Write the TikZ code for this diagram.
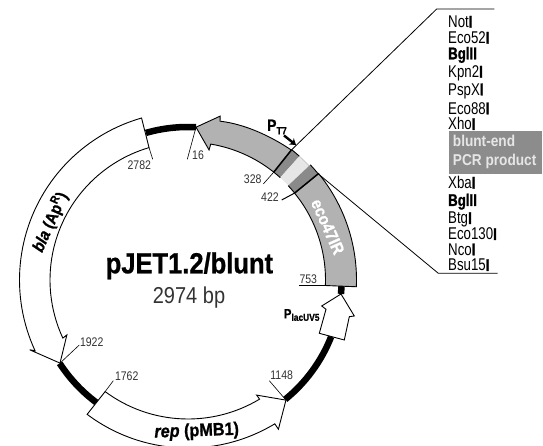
\documentclass[tikz,border=0pt]{standalone}
\usepackage{fontspec}
\usetikzlibrary{arrows.meta}
\setmainfont[FakeStretch=0.84,BoldFeatures={FakeBold=0.8},BoldItalicFeatures={FakeBold=0.8}]{Liberation Sans}
\newfontfamily\listf[FakeStretch=0.78,BoldFeatures={FakeBold=1.2}]{Liberation Sans}
\newfontfamily\titlef[FakeStretch=0.88,BoldFeatures={FakeBold=0.8}]{Liberation Sans}
\newfontfamily\sizef[FakeStretch=0.87]{Liberation Sans}
\newfontfamily\genef[FakeStretch=0.90,BoldFeatures={FakeBold=1},BoldItalicFeatures={FakeBold=1}]{Liberation Sans}
\definecolor{bandgrey}{HTML}{B2B2B2}
\definecolor{dkgrey}{HTML}{8A8A8A}
\definecolor{ltgrey}{HTML}{E6E6E6}
\definecolor{boxgrey}{HTML}{8C8C8C}
\definecolor{thintext}{HTML}{333333}
\tikzset{
  x=1pt,y=1pt,
  band/.style={draw=black,line width=0.9pt,line join=miter,miter limit=6},
  backbone/.style={line width=6.5pt,black},
  ticker/.style={draw=black,line width=0.6pt},
  poslabel/.style={inner sep=0pt,font=\fontsize{12.5}{12.5}\selectfont,text=thintext},
  enz/.style={inner sep=0pt,anchor=west,text height=12pt,text depth=0pt,font=\listf\fontsize{17}{17}\selectfont},
  boxtext/.style={inner sep=0pt,anchor=west,text=ltgrey,font=\sizef\fontsize{15.7}{15.7}\selectfont\bfseries},
  genetext/.style={inner sep=0pt,font=\genef\fontsize{18}{18}\selectfont\bfseries},
}
\begin{document}
\begin{tikzpicture}
\useasboundingbox (0,0) rectangle (543,446);
\coordinate (C) at (188,166);
\begin{scope}[shift={(188,166)}]
  % backbone
  \draw[backbone] (106:153) arc[start angle=106,end angle=87,radius=153pt];
  \draw[backbone] (213:153) arc[start angle=213,end angle=233.3,radius=153pt];
  \draw[backbone] (309.2:154) arc[start angle=309.2,end angle=338.4,radius=154pt];
  \draw[backbone] (354.8:153.6) arc[start angle=354.8,end angle=358,radius=153.6pt];
  % bla
  \draw[band,fill=white] (106.4:138) arc[start angle=106.4,end angle=204.9,radius=138pt]
    -- (204.4:133) -- (213:152.6) -- (203.8:173) -- (204.8:168.5)
    arc[start angle=204.8,end angle=106,radius=168.5pt] -- cycle;
  % rep
  \draw[band,fill=white] (233.4:139) arc[start angle=233.4,end angle=301,radius=139pt]
    -- (300.8:134) -- (309.2:155) -- (301.2:174.5) -- (301.1:168)
    arc[start angle=301.1,end angle=233.1,radius=168pt] -- cycle;
  % grey arrow, upper part
  \draw[band,fill=bandgrey] (51.5:137.8) arc[start angle=51.5,end angle=80.5,radius=137.8pt]
    -- (80.8:131.7) -- (87:153) -- (78.9:167) -- (78.6:162)
    .. controls (70:166) and (60:166) .. (51.5:166) -- cycle;
  % grey arrow, lower part
  \draw[band,fill=bandgrey] (39.2:137.5) arc[start angle=39.2,end angle=-2.3,radius=137.5pt]
    -- (-2.3:168.5) arc[start angle=-2.3,end angle=39.2,radius=168.5pt] -- cycle;
  % MCS inserts
  \fill[dkgrey] (51.5:137.8) arc[start angle=51.5,end angle=48,radius=137.8pt] -- (48:166.5) arc[start angle=48,end angle=51.5,radius=166.5pt] -- cycle;
  \fill[ltgrey] (48:137.8) arc[start angle=48,end angle=43.3,radius=137.8pt] -- (43.3:167) arc[start angle=43.3,end angle=48,radius=167pt] -- cycle;
  \fill[dkgrey] (43.3:137.6) arc[start angle=43.3,end angle=39.2,radius=137.6pt] -- (39.2:168) arc[start angle=39.2,end angle=43.3,radius=168pt] -- cycle;
  \draw[line width=0.9pt] (48:137.8) arc[start angle=48,end angle=51.5,radius=137.8pt];
  \draw[line width=0.9pt] (48:166.5) arc[start angle=48,end angle=51.5,radius=166.5pt];
  \draw[line width=0.9pt] (43.3:137.6) arc[start angle=43.3,end angle=39.2,radius=137.6pt];
  \draw[line width=0.9pt] (43.3:168) arc[start angle=43.3,end angle=39.2,radius=168pt];
  \draw[line width=0.3pt,draw=gray!60] (48:166.5) arc[start angle=48,end angle=43.3,radius=167pt];
  \draw[line width=1.5pt] (51.5:137.8) -- (51.5:166);
  \draw[line width=1.5pt] (39.2:137.5) -- (39.2:168);
  % anchor points on the map
  \coordinate (tipgrey) at (87:153);
  \coordinate (tailbla) at (106.4:138);
  \coordinate (tipbla) at (213:152.6);
  \coordinate (tailrep) at (233.4:139);
  \coordinate (tiprep) at (309.2:155);
  \coordinate (cutA) at (51.5:137.8);
  \coordinate (cutAo) at (51.5:166);
  \coordinate (cutB) at (39.2:137.5);
  \coordinate (cutBo) at (39.2:168);
\end{scope}
% PlacUV5 arrow
\draw[band,fill=white] (341,152) coordinate (tipp) -- (321.7,140) -- (326,136.7) -- (319.3,112.7) -- (344.3,106) -- (349.3,129.3) -- (354.3,130) -- cycle;
% position ticks
\coordinate (e16) at (187.3,286.7); \draw[ticker] (tipgrey) -- (e16);
\coordinate (e2782) at (152.7,286.7); \draw[ticker] (tailbla) -- (e2782);
\coordinate (e1922) at (79.3,101); \draw[ticker] (tipbla) -- (e1922);
\coordinate (e1762) at (113.3,65.3); \draw[ticker] (tailrep) -- (e1762);
\coordinate (e1148) at (269.3,65.3); \draw[ticker] (tiprep) -- (e1148);
\coordinate (e753a) at (299,160.3); \coordinate (e753b) at (325,160.3); \draw[ticker] (e753a) -- (e753b);
\coordinate (e328) at (263.3,262); \draw[ticker] (cutA) -- (e328);
\coordinate (e422) at (281.7,246); \draw[ticker,line width=1pt] (cutB) -- (e422);
\node[poslabel] (n16) at (198,290.3) {16};
\node[poslabel] (n2782) at (139.3,281) {2782};
\node[poslabel] (n1922) at (91.7,104) {1922};
\node[poslabel] (n1762) at (126.7,70) {1762};
\node[poslabel] (n1148) at (281.7,70.3) {1148};
\node[poslabel] (n753) at (308.3,166.7) {753};
\node[poslabel] (n328) at (252.7,266.7) {328};
\node[poslabel] (n422) at (270,249.3) {422};
% expansion lines
\coordinate (upA) at (436.7,437); \coordinate (upB) at (494.3,437);
\coordinate (loA) at (438.3,172.7); \coordinate (loB) at (497.7,172.7);
\draw[ticker,line width=0.8pt] (cutAo) -- (upA) -- (upB);
\draw[ticker,line width=0.8pt] (cutBo) -- (loA) -- (loB);
% enzyme list
\node[enz] (e1) at (448,424.3) {Not\textbf{I}};
\node[enz] (e2) at (448,408.3) {Eco52\textbf{I}};
\node[enz] (e3) at (448,392.7) {\textbf{BglII}};
\node[enz] (e4) at (448,374.3) {Kpn2\textbf{I}};
\node[enz] (e5) at (448,356.7) {PspX\textbf{I}};
\node[enz] (e6) at (448,337.7) {Eco88\textbf{I}};
\node[enz] (e7) at (448,322) {Xho\textbf{I}};
\fill[boxgrey] (449,272.3) rectangle (542,315);
\node[boxtext] (b1) at (452.7,305) {blunt-end};
\node[boxtext] (b2) at (452.7,285) {PCR product};
\node[enz] (e8) at (448,263.3) {Xba\textbf{I}};
\node[enz] (e9) at (448,246) {\textbf{BglII}};
\node[enz] (e10) at (448,228) {Btg\textbf{I}};
\node[enz] (e11) at (448,212) {Eco130\textbf{I}};
\node[enz] (e12) at (448,196.7) {Nco\textbf{I}};
\node[enz] (e13) at (448,181) {Bsu15\textbf{I}};
% titles
\node[inner sep=0pt,anchor=base,font=\titlef\fontsize{29}{29}\selectfont\bfseries] (title) at (189.4,172.7) {pJET1.2/blunt};
\node[inner sep=0pt,anchor=base,text=thintext,font=\sizef\fontsize{23}{23}\selectfont] (size) at (189,142.7) {2974 bp};
% gene labels
\node[genetext,rotate=66,font=\genef\fontsize{16.5}{16.5}\selectfont\bfseries] (bla) at (50,224) {\textit{bla} (Ap\textsuperscript{R})};
\node[genetext,rotate=2] (rep) at (196.7,14.5) {\textit{rep} (pMB1)};
\node[genetext,rotate=-66,text=white,font=\genef\fontsize{17}{17}\selectfont\bfseries] (eco) at (327.7,219.3) {eco47IR};
\node[inner sep=0pt,font=\fontsize{16.5}{16.5}\selectfont\bfseries] (pt7) at (277,319) {P\raisebox{-3.5pt}{\fontsize{10.5}{10.5}\selectfont T7}};
\draw[line width=2.4pt,-{Stealth[length=6pt,width=8pt]}] (284,310.5) -- (296,301);
\node[inner sep=0pt,font=\fontsize{13.5}{13.5}\selectfont\bfseries] (plac) at (301.7,131) {P\raisebox{-2.5pt}{\fontsize{10}{10}\selectfont lacUV5}};
\end{tikzpicture}
\end{document}
